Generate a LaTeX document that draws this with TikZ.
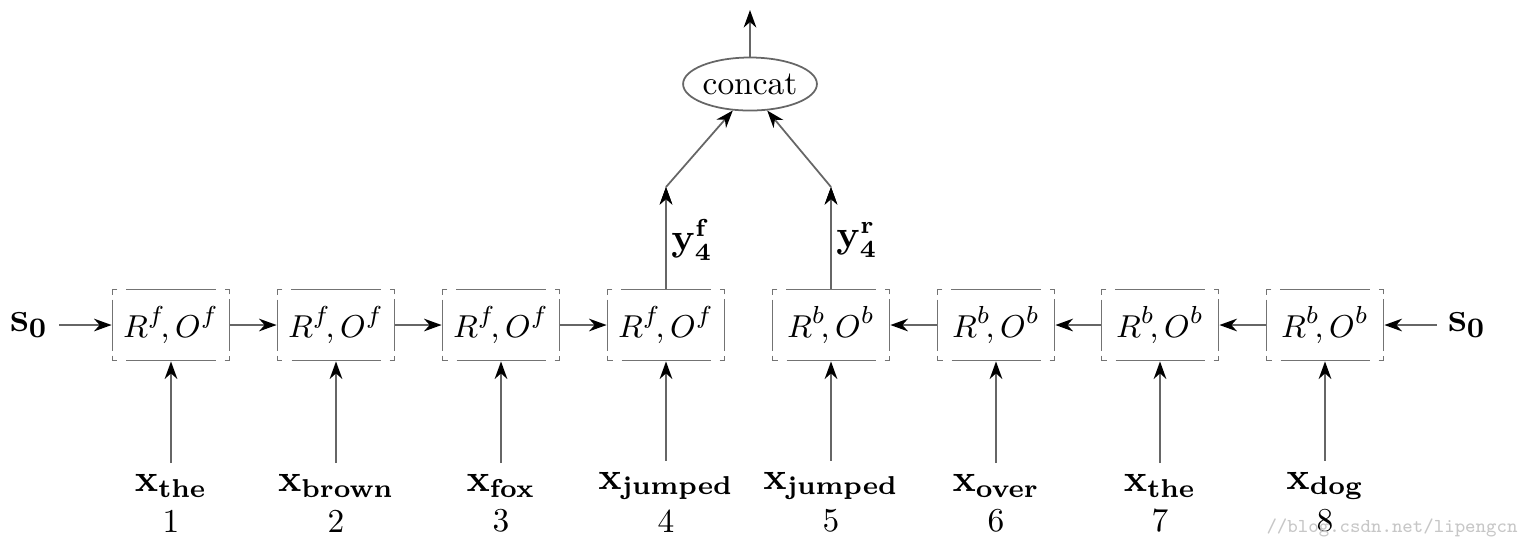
\documentclass[tikz,border=0pt]{standalone}
\usepackage{amsmath}
\usetikzlibrary{arrows.meta,shapes.geometric}

\begin{document}
\begin{tikzpicture}[x=0.01cm,y=-0.01cm,
	font=\fontsize{9.5}{11}\selectfont,
	cell/.style={draw=black!55,line width=0.5pt,minimum width=1.17cm,minimum height=0.71cm,inner sep=0pt,
		dash pattern=on 2.85pt off 2.56pt on 25.32pt off 2.56pt on 2.85pt off 1.42pt on 14.51pt off 1.42pt,
		dash phase=1.42pt},
	conn/.style={-{Stealth[black,length=5pt,width=3.6pt,inset=1.6pt]},draw=black!60,line width=0.5pt},
	word/.style={inner sep=3pt,font=\fontsize{10.5}{12}\selectfont}]
	\useasboundingbox (0,0) rectangle (1524,550);
	%\draw[help lines] (0,0) grid[step=100] (1524,550);

	\node[cell] (f1) at (171,325) {$R^f\!,O^f$};
	\node[cell] (f2) at (336,325) {$R^f\!,O^f$};
	\node[cell] (f3) at (501,325) {$R^f\!,O^f$};
	\node[cell] (f4) at (666,325) {$R^f\!,O^f$};
	\node[cell] (b5) at (831,325) {$R^b\!,O^b$};
	\node[cell] (b6) at (996,325) {$R^b\!,O^b$};
	\node[cell] (b7) at (1160,325) {$R^b\!,O^b$};
	\node[cell] (b8) at (1325,325) {$R^b\!,O^b$};

	\node[word,font=\fontsize{11.5}{13}\selectfont] (sl) at (29,325) {$\mathbf{s}_{\mathbf{0}}$};
	\node[word,font=\fontsize{11.5}{13}\selectfont] (sr) at (1467,325) {$\mathbf{s}_{\mathbf{0}}$};

	\node[word] (x1) at (171,486) {$\mathbf{x}_{\textbf{the}}$};
	\node[word] (x2) at (336,486) {$\mathbf{x}_{\textbf{brown}}$};
	\node[word] (x3) at (501,486) {$\mathbf{x}_{\textbf{fox}}$};
	\node[word] (x4) at (666,486) {$\mathbf{x}_{\textbf{jumped}}$};
	\node[word] (x5) at (831,486) {$\mathbf{x}_{\textbf{jumped}}$};
	\node[word] (x6) at (996,486) {$\mathbf{x}_{\textbf{over}}$};
	\node[word] (x7) at (1160,486) {$\mathbf{x}_{\textbf{the}}$};
	\node[word] (x8) at (1325,486) {$\mathbf{x}_{\textbf{dog}}$};

	\node (n1) at (171,521) {1};
	\node (n2) at (336,521) {2};
	\node (n3) at (501,521) {3};
	\node (n4) at (666,521) {4};
	\node (n5) at (831,521) {5};
	\node (n6) at (996,521) {6};
	\node (n7) at (1160,521) {7};
	\node (n8) at (1325,521) {8};

	\node[ellipse,draw=black!60,line width=0.5pt,minimum width=1.22cm,minimum height=0.53cm,inner sep=0pt] (concat) at (750,84) {concat};
	\coordinate (yf) at (666,187);
	\coordinate (yr) at (831,187);
	\coordinate (out) at (750,10);
	\node[font=\fontsize{10.5}{12}\selectfont] (yfl) at (692,240) {$\mathbf{y}^{\mathbf{f}}_{\mathbf{4}}$};
	\node[font=\fontsize{10.5}{12}\selectfont] (yrl) at (857,240) {$\mathbf{y}^{\mathbf{r}}_{\mathbf{4}}$};

	\node[text=black!22] (wm) at (1392,528) {\fontsize{5.6}{7}\selectfont\ttfamily //blog.csdn.net/lipengcn};

	\path[conn] (sl) edge (f1);
	\path[conn] (f1) edge (f2);
	\path[conn] (f2) edge (f3);
	\path[conn] (f3) edge (f4);
	\path[conn] (sr) edge (b8);
	\path[conn] (b8) edge (b7);
	\path[conn] (b7) edge (b6);
	\path[conn] (b6) edge (b5);

	\path[conn] (x1) edge (f1);
	\path[conn] (x2) edge (f2);
	\path[conn] (x3) edge (f3);
	\path[conn] (x4) edge (f4);
	\path[conn] (x5) edge (b5);
	\path[conn] (x6) edge (b6);
	\path[conn] (x7) edge (b7);
	\path[conn] (x8) edge (b8);

	\path[conn] (f4) edge (yf);
	\path[conn] (b5) edge (yr);
	\path[conn] (yf) edge (concat.-123);
	\path[conn] (yr) edge (concat.-57);
	\path[conn] (concat) edge (out);
\end{tikzpicture}
\end{document}
